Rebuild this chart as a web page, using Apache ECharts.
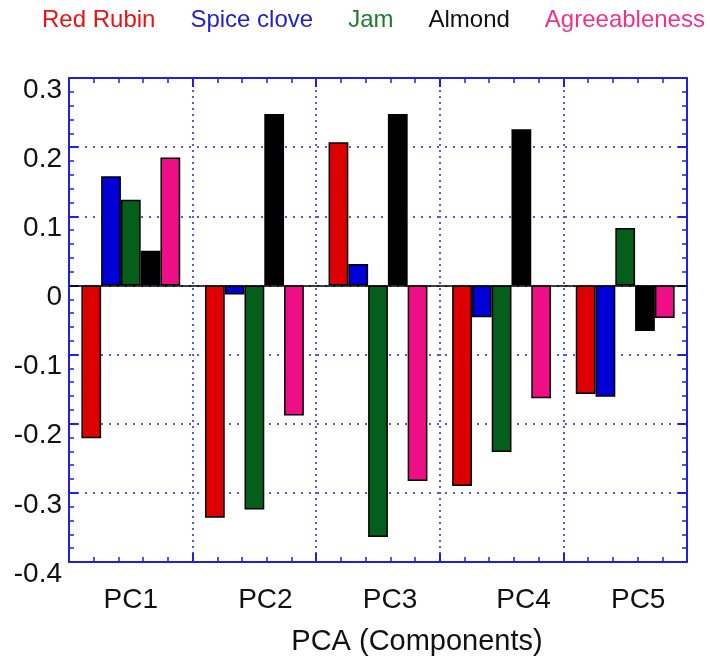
<!DOCTYPE html>
<html>
<head>
<meta charset="utf-8">
<script src="https://cdn.jsdelivr.net/npm/echarts@6/dist/echarts.min.js"></script>
<style>
html,body{margin:0;padding:0;background:#fff;}
#chart{width:710px;height:661px;}
</style>
</head>
<body>
<div id="chart"></div>
<script>
// ---- data ----
var categories = ['PC1', 'PC2', 'PC3', 'PC4', 'PC5'];
var seriesNames = ['Red Rubin', 'Spice clove', 'Jam', 'Almond', 'Agreeableness'];
var redRubin = [-0.221, -0.336, 0.207, -0.290, -0.157];
var spiceClove = [0.158, -0.013, 0.031, -0.046, -0.161];
var jam = [0.124, -0.324, -0.364, -0.241, 0.083];
var almond = [0.050, 0.248, 0.248, 0.226, -0.066];
var agreeableness = [0.185, -0.188, -0.283, -0.163, -0.047];
var yTickLabels = ['-0.4', '-0.3', '-0.2', '-0.1', '0', '0.1', '0.2', '0.3'];
var xTitle = 'PCA (Components)';

// ---- styles ----
var barColors = ['#DD0000', '#0000D6', '#065E1B', '#000000', '#EE0E85'];
var legendColors = ['#EE1111', '#2222CC', '#1E7B2E', '#111111', '#F0308F'];
var frameColor = '#2020E0';
var FONT = '"Liberation Sans", Arial, sans-serif';
var values = [redRubin, spiceClove, jam, almond, agreeableness];

var chart = echarts.init(document.getElementById('chart'), null, {renderer: 'canvas'});

var labelShift = [0, 22, 24, 44, 26];
var rich = {};
labelShift.forEach(function (s, i) {
  rich['o' + i] = {fontSize: 28, fontFamily: FONT, color: '#111', padding: [0, 0, 0, s]};
});

var series = seriesNames.map(function (name, i) {
  var s = {
    name: name,
    type: 'bar',
    data: values[i],
    barGap: 0,
    barCategoryGap: '20%',
    itemStyle: {color: barColors[i], borderColor: '#000', borderWidth: 1.5},
    emphasis: {disabled: true},
    animation: false
  };
  if (i === 0) {
    s.markLine = {
      silent: true,
      symbol: 'none',
      label: {show: false},
      lineStyle: {color: '#000', width: 1.5, type: 'solid'},
      data: [{yAxis: 0}],
      z: 10
    };
  }
  return s;
});

var option = {
  animation: false,
  backgroundColor: '#fff',
  legend: {
    top: 8,
    left: 37,
    width: 700,
    padding: 0,
    icon: 'none',
    itemWidth: 0,
    itemHeight: 10,
    itemGap: 30,
    selectedMode: false,
    textStyle: {fontSize: 24, fontFamily: FONT},
    data: seriesNames.map(function (n, i) {
      return {name: n, textStyle: {color: legendColors[i], fontSize: 24, fontFamily: FONT}};
    })
  },
  grid: {left: 69, right: 23, top: 78, bottom: 97},
  xAxis: [
    {
      type: 'category',
      data: categories,
      position: 'bottom',
      boundaryGap: true,
      axisLine: {show: true, onZero: false, lineStyle: {color: frameColor, width: 2}},
      axisTick: {show: true, inside: true, interval: 0, length: 9, lineStyle: {color: frameColor, width: 2}},
      splitLine: {show: true, interval: 0, lineStyle: {color: frameColor, width: 1.5, type: [2, 4]}},
      axisLabel: {
        interval: 0,
        margin: 24,
        fontSize: 28,
        fontFamily: FONT,
        color: '#111',
        rich: rich,
        formatter: function (v, i) { return '{o' + i + '|' + v + '}'; }
      },
      name: xTitle,
      nameLocation: 'middle',
      nameGap: 65,
      nameTextStyle: {fontSize: 29, fontFamily: FONT, color: '#111', padding: [0, 0, 0, 78]}
    },
    {
      type: 'value',
      position: 'top',
      min: 0, max: 5, interval: 1,
      axisLine: {show: true, onZero: false, lineStyle: {color: frameColor, width: 2}},
      axisTick: {show: true, inside: true, length: 9, lineStyle: {color: frameColor, width: 2}},
      minorTick: {show: true, splitNumber: 5, length: 5, lineStyle: {color: frameColor, width: 1.5}},
      splitLine: {show: false},
      axisLabel: {show: false}
    },
    {
      type: 'value',
      position: 'bottom',
      offset: 0,
      min: 0, max: 5, interval: 1,
      axisLine: {show: false, onZero: false},
      axisTick: {show: false, inside: true, length: 9},
      minorTick: {show: true, splitNumber: 5, length: 5, lineStyle: {color: frameColor, width: 1.5}},
      splitLine: {show: false},
      axisLabel: {show: false}
    }
  ],
  yAxis: [
    {
      type: 'value',
      position: 'left',
      min: -0.4, max: 0.3, interval: 0.1,
      axisLine: {show: true, onZero: false, lineStyle: {color: frameColor, width: 2}},
      axisTick: {show: true, inside: true, length: 9, lineStyle: {color: frameColor, width: 2}},
      minorTick: {show: true, splitNumber: 5, length: 5, lineStyle: {color: frameColor, width: 1.5}},
      splitLine: {show: true, lineStyle: {color: frameColor, width: 1.5, type: [2, 6]}},
      axisLabel: {
        margin: 7,
        fontSize: 28,
        fontFamily: FONT,
        color: '#111',
        verticalAlign: 'top',
        lineHeight: 24,
        formatter: function (v) {
          var idx = Math.round((v + 0.4) * 10);
          return yTickLabels[idx] !== undefined ? yTickLabels[idx] : '';
        }
      }
    },
    {
      type: 'value',
      position: 'right',
      min: -0.4, max: 0.3, interval: 0.1,
      axisLine: {show: true, onZero: false, lineStyle: {color: frameColor, width: 2}},
      axisTick: {show: true, inside: true, length: 9, lineStyle: {color: frameColor, width: 2}},
      minorTick: {show: true, splitNumber: 5, length: 5, lineStyle: {color: frameColor, width: 1.5}},
      splitLine: {show: false},
      axisLabel: {show: false}
    }
  ],
  series: series
};

chart.setOption(option);
</script>
</body>
</html>
